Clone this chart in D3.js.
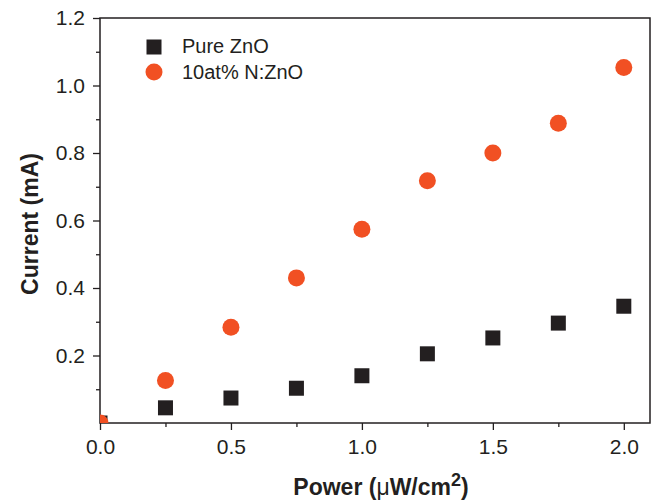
<!DOCTYPE html>
<html>
<head>
<meta charset="utf-8">
<script src="https://cdn.jsdelivr.net/npm/d3@7"></script>
<style>
  body { margin: 0; background: #fff; }
  text { font-family: "Liberation Sans", Arial, sans-serif; fill: #231f20; }
</style>
</head>
<body>
<svg id="chart"></svg>
<script>
// Data
const power = [0, 0.25, 0.5, 0.75, 1.0, 1.25, 1.5, 1.75, 2.0];
const pureZnO = [0, 0.045, 0.074, 0.103, 0.140, 0.205, 0.252, 0.296, 0.346];
const dopedZnO = [0, 0.126, 0.284, 0.430, 0.574, 0.718, 0.800, 0.888, 1.053];
const xTicks = [0, 0.5, 1.0, 1.5, 2.0];
const yTicks = [0.2, 0.4, 0.6, 0.8, 1.0, 1.2];

const width = 656;
const height = 503;
const margin = { top: 18, right: 6, bottom: 80, left: 100 };

const svg = d3.select("#chart")
  .attr("width", width)
  .attr("height", height);

const x = d3.scaleLinear()
  .domain([0, 2.1])
  .range([margin.left, width - margin.right]);

const y = d3.scaleLinear()
  .domain([0, 1.2])
  .range([height - margin.bottom, margin.top]);

const ink = "#231f20";
const orange = "#f15023";
const tickFont = "21px";

// Clip path for plot area
svg.append("defs").append("clipPath")
  .attr("id", "plot-clip")
  .append("rect")
  .attr("x", x(0))
  .attr("y", y(1.2))
  .attr("width", x(2.1) - x(0))
  .attr("height", y(0) - y(1.2));

// Minor ticks
const xMinor = d3.axisBottom(x).tickValues(d3.range(0.25, 2.1, 0.5)).tickSize(4).tickFormat("");
const yMinor = d3.axisLeft(y).tickValues(d3.range(0.1, 1.2, 0.2)).tickSize(4).tickFormat("");

svg.append("g")
  .attr("transform", `translate(0,${y(0)})`)
  .call(xMinor)
  .call(g => g.select(".domain").remove())
  .selectAll("line").attr("stroke", ink).attr("stroke-width", 1.3);

svg.append("g")
  .attr("transform", `translate(${x(0)},0)`)
  .call(yMinor)
  .call(g => g.select(".domain").remove())
  .selectAll("line").attr("stroke", ink).attr("stroke-width", 1.3);

// Major axes
const xAxis = d3.axisBottom(x).tickValues(xTicks).tickSize(7).tickPadding(9).tickFormat(d3.format(".1f"));
const yAxis = d3.axisLeft(y).tickValues(yTicks).tickSize(7).tickPadding(8).tickFormat(d3.format(".1f"));

svg.append("g")
  .attr("transform", `translate(0,${y(0)})`)
  .call(xAxis)
  .call(g => g.select(".domain").remove())
  .call(g => g.selectAll("line").attr("stroke", ink).attr("stroke-width", 1.3))
  .call(g => g.selectAll("text")
    .style("font-family", "'Liberation Sans', Arial, sans-serif")
    .style("font-size", tickFont)
    .attr("fill", ink));

svg.append("g")
  .attr("transform", `translate(${x(0)},0)`)
  .call(yAxis)
  .call(g => g.select(".domain").remove())
  .call(g => g.selectAll("line").attr("stroke", ink).attr("stroke-width", 1.3))
  .call(g => g.selectAll("text")
    .style("font-family", "'Liberation Sans', Arial, sans-serif")
    .style("font-size", tickFont)
    .attr("fill", ink));

// Frame
svg.append("rect")
  .attr("x", x(0))
  .attr("y", y(1.2))
  .attr("width", x(2.1) - x(0))
  .attr("height", y(0) - y(1.2))
  .attr("fill", "none")
  .attr("stroke", ink)
  .attr("stroke-width", 1.5);

// Data points
const plot = svg.append("g").attr("clip-path", "url(#plot-clip)");
const sq = 15;

plot.selectAll(".pure")
  .data(power.map((p, i) => [p, pureZnO[i]]))
  .enter()
  .append("rect")
  .attr("class", "pure")
  .attr("x", d => x(d[0]) - sq / 2)
  .attr("y", d => y(d[1]) - sq / 2)
  .attr("width", sq)
  .attr("height", sq)
  .attr("fill", ink);

plot.selectAll(".doped")
  .data(power.map((p, i) => [p, dopedZnO[i]]))
  .enter()
  .append("circle")
  .attr("class", "doped")
  .attr("cx", d => x(d[0]))
  .attr("cy", d => y(d[1]))
  .attr("r", 8.5)
  .attr("fill", orange);

// Legend
const legend = svg.append("g").attr("transform", "translate(154,47)");
legend.append("rect")
  .attr("x", -sq / 2).attr("y", -sq / 2)
  .attr("width", sq).attr("height", sq)
  .attr("fill", ink);
legend.append("text")
  .attr("x", 28).attr("y", 6)
  .style("font-size", "20px")
  .text("Pure ZnO");
legend.append("circle")
  .attr("cx", 0).attr("cy", 25)
  .attr("r", 8.5)
  .attr("fill", orange);
legend.append("text")
  .attr("x", 28).attr("y", 32)
  .style("font-size", "20px")
  .text("10at% N:ZnO");

// Axis titles
const xTitle = svg.append("text")
  .attr("x", 381)
  .attr("y", 495)
  .attr("text-anchor", "middle")
  .style("font-size", "23px")
  .style("font-weight", "bold");
xTitle.append("tspan").text("Power (");
xTitle.append("tspan").style("font-weight", "normal").text("\u03bc");
xTitle.append("tspan").text("W/cm");
xTitle.append("tspan").attr("dy", -9).style("font-size", "18px").text("2");
xTitle.append("tspan").attr("dy", 9).text(")");

svg.append("text")
  .attr("transform", "translate(38,224) rotate(-90)")
  .attr("text-anchor", "middle")
  .style("font-size", "23px")
  .style("font-weight", "bold")
  .text("Current (mA)");
</script>
</body>
</html>
